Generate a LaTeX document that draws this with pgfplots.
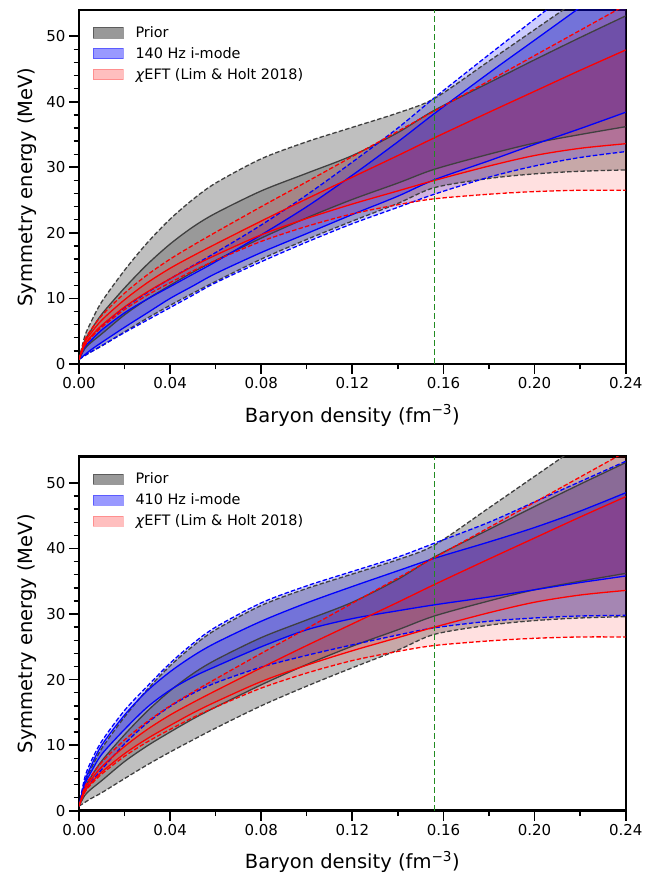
\documentclass[border=0pt]{standalone}
\usepackage{pgfplots}
\pgfplotsset{compat=1.18}
\usepackage{pgfplotstable}
\usepgfplotslibrary{fillbetween}
\usepackage{fontspec}
\setmainfont{DejaVu Sans}
\definecolor{fgreen}{RGB}{34,139,34}

% Prior (same in both panels): dashed upper, solid upper, solid lower, dashed lower
\pgfplotstableread{
x      du    su    sl    dl
0      0.7   0.7   0.7   0.7
0.0025 4.2   3.5   2.3   1.25
0.005  6.2   5.0   3.2   1.8
0.01   9.5   7.6   4.6   2.75
0.02  14.3  11.6   7.5   4.9
0.03  18.5  15.2   9.9   7.0
0.04  22.1  18.3  12.0   8.95
0.05  25.1  20.9  14.0  10.8
0.06  27.6  23.0  15.8  12.6
0.08  31.3  26.4  19.2  16.0
0.10  33.9  29.1  22.3  19.0
0.12  36.1  31.8  25.1  21.8
0.14  38.3  35.3  27.6  24.5
0.156 40.5  38.7  29.7  26.9
0.18  46.2  42.9  32.0  28.3
0.20  51.0  46.4  33.7  29.0
0.22  55.8  49.8  35.0  29.4
0.24  60.6  53.1  36.2  29.6
}\prior

% 140 Hz i-mode
\pgfplotstableread{
x      du    su    sl    dl
0      0.7   0.7   0.7   0.7
0.0025 2.8   2.6   1.4   1.3
0.005  4.0   3.5   2.1   1.8
0.01   5.8   5.2   3.3   2.8
0.02   8.6   7.8   5.6   4.8
0.03  10.9   9.9   7.8   6.7
0.04  13.0  11.8  10.0   8.6
0.05  15.0  13.7  11.9  10.5
0.06  17.0  15.6  13.8  12.4
0.08  21.2  19.7  17.0  15.6
0.10  25.8  24.0  19.9  18.6
0.12  30.8  28.8  22.8  21.4
0.14  36.0  33.9  25.6  23.9
0.156 40.6  38.2  28.1  25.9
0.18  47.2  44.4  31.0  28.5
0.20  52.6  49.4  33.5  30.2
0.22  58.0  54.4  35.9  31.5
0.24  63.4  59.4  38.4  32.4
}\blueA

% 410 Hz i-mode
\pgfplotstableread{
x      du    su    sl    dl
0      0.7   0.7   0.7   0.7
0.0025 5.0   4.4   3.9   2.9
0.005  7.3   6.6   5.7   4.2
0.01  10.6  10.0   8.6   6.3
0.02  15.3  14.6  12.4  10.2
0.03  19.0  18.3  15.8  13.4
0.04  22.5  21.2  18.4  15.9
0.05  25.5  23.6  20.4  17.9
0.06  28.0  25.6  22.0  19.5
0.08  31.7  28.9  25.0  21.9
0.10  34.3  31.7  27.6  23.7
0.12  36.5  34.2  29.3  25.3
0.14  38.7  36.6  30.5  26.8
0.156 40.8  38.5  31.4  27.9
0.18  44.0  41.0  32.6  28.9
0.20  47.1  43.2  33.7  29.4
0.22  50.2  45.7  34.8  29.7
0.24  53.3  48.5  35.8  29.8
}\blueB

% chiEFT (Lim & Holt 2018)
\pgfplotstableread{
x      du    su    sl    dl
0      0.7   0.7   0.7   0.7
0.0025 3.6   3.3   2.9   2.8
0.005  5.1   4.6   4.1   3.9
0.01   7.4   6.7   5.9   5.6
0.02  10.8   9.8   8.7   8.3
0.03  13.6  12.4  11.0  10.5
0.04  16.0  14.6  13.0  12.4
0.05  18.1  16.5  14.9  14.2
0.06  20.1  18.3  16.6  15.8
0.08  24.0  21.8  19.7  18.7
0.10  27.8  25.2  22.2  21.0
0.12  31.65 28.5  24.4  22.9
0.14  35.5  31.8  26.4  24.3
0.156 38.6  34.5  28.0  25.2
0.18  43.2  38.4  30.2  25.9
0.20  47.05 41.6  31.8  26.3
0.22  50.9  44.8  32.9  26.5
0.24  54.75 47.9  33.6  26.5
}\chieft

% #1 table, #2 prefix, #3 fill colour, #4 line colour, #5 outer opacity, #6 inner opacity
\newcommand{\band}[6]{%
  \addplot[name path=#2du, draw=none, smooth, forget plot] table[x=x,y=du]{#1};
  \addplot[name path=#2su, draw=none, smooth, forget plot] table[x=x,y=su]{#1};
  \addplot[name path=#2sl, draw=none, smooth, forget plot] table[x=x,y=sl]{#1};
  \addplot[name path=#2dl, draw=none, smooth, forget plot] table[x=x,y=dl]{#1};
  \addplot[fill=#3, fill opacity=#5, draw=none, forget plot] fill between[of=#2du and #2dl];
  \addplot[fill=#3, fill opacity=#6, draw=none, forget plot] fill between[of=#2su and #2sl];
  \addplot[#4, line width=1.3pt, smooth, dash pattern=on 4.5pt off 2.2pt, forget plot] table[x=x,y=du]{#1};
  \addplot[#4, line width=1.3pt, smooth, forget plot] table[x=x,y=su]{#1};
  \addplot[#4, line width=1.3pt, smooth, forget plot] table[x=x,y=sl]{#1};
  \addplot[#4, line width=1.3pt, smooth, dash pattern=on 4.5pt off 2.2pt, forget plot] table[x=x,y=dl]{#1};
}

\pgfplotsset{
  myaxis/.style={
    scale only axis, width=546.7pt, height=354pt,
    xmin=0, xmax=0.24, ymin=0, ymax=54,
    xtick={0,0.04,0.08,0.12,0.16,0.20,0.24},
    minor x tick num=1,
    ytick={0,10,20,30,40,50},
    minor y tick num=4,
    xtick pos=left, ytick pos=left,
    tick align=outside,
    major tick length=10pt, minor tick length=5.5pt,
    major tick style={line width=1.8pt, black},
    minor tick style={line width=1.4pt, black},
    axis line style={line width=2.4pt},
    /pgf/number format/assume math mode=true,
    xticklabel style={/pgf/number format/.cd, fixed, fixed zerofill, precision=2},
    yticklabel style={/pgf/number format/.cd, fixed, precision=0},
    ticklabel style={font=\fontsize{15}{18}\selectfont},
    scaled x ticks=false,
    xlabel={Baryon density (fm\textsuperscript{−3})},
    ylabel={Symmetry energy (MeV)},
    label style={font=\fontsize{19.5}{23}\selectfont},
    xlabel style={yshift=-12pt, inner sep=0pt},
    ylabel shift=3pt,
    legend style={at={(0.02,0.966)}, anchor=north west, draw=none, fill=none,
      font=\fontsize{14.4}{17}\selectfont, row sep=4.5pt,
      /tikz/every odd column/.append style={column sep=10pt}},
    legend cell align=left,
    clip=true,
  }
}

\begin{document}
\begin{tikzpicture}
\path (0,0) rectangle (659pt,874pt);

\begin{axis}[myaxis, at={(79pt,510pt)}, anchor=south west]
  \addlegendimage{legend image code/.code={\fill[black, opacity=0.4] (0pt,-5.3pt) rectangle (30pt,5.3pt);}}
  \addlegendentry{Prior}
  \addlegendimage{legend image code/.code={\fill[blue, opacity=0.4] (0pt,-5.3pt) rectangle (30pt,5.3pt);}}
  \addlegendentry{140 Hz i-mode}
  \addlegendimage{legend image code/.code={\fill[red, opacity=0.25] (0pt,-5.3pt) rectangle (30pt,5.3pt);}}
  \addlegendentry{\textit{χ}EFT (Lim \& Holt 2018)}
  \band{\prior}{pa}{black}{black!75}{0.25}{0.2}
  \band{\blueA}{ba}{blue}{blue}{0.2}{0.25}
  \band{\chieft}{ra}{red}{red}{0.12}{0.15}
  \addplot[fgreen, line width=1.5pt, dash pattern=on 6pt off 3pt, forget plot] coordinates {(0.156,0) (0.156,54)};
\end{axis}

\begin{axis}[myaxis, at={(79pt,63.3pt)}, anchor=south west]
  \addlegendimage{legend image code/.code={\fill[black, opacity=0.4] (0pt,-5.3pt) rectangle (30pt,5.3pt);}}
  \addlegendentry{Prior}
  \addlegendimage{legend image code/.code={\fill[blue, opacity=0.4] (0pt,-5.3pt) rectangle (30pt,5.3pt);}}
  \addlegendentry{410 Hz i-mode}
  \addlegendimage{legend image code/.code={\fill[red, opacity=0.25] (0pt,-5.3pt) rectangle (30pt,5.3pt);}}
  \addlegendentry{\textit{χ}EFT (Lim \& Holt 2018)}
  \band{\prior}{pb}{black}{black!75}{0.25}{0.2}
  \band{\blueB}{bb}{blue}{blue}{0.2}{0.25}
  \band{\chieft}{rb}{red}{red}{0.12}{0.15}
  \addplot[fgreen, line width=1.5pt, dash pattern=on 6pt off 3pt, forget plot] coordinates {(0.156,0) (0.156,54)};
\end{axis}
\end{tikzpicture}
\end{document}
